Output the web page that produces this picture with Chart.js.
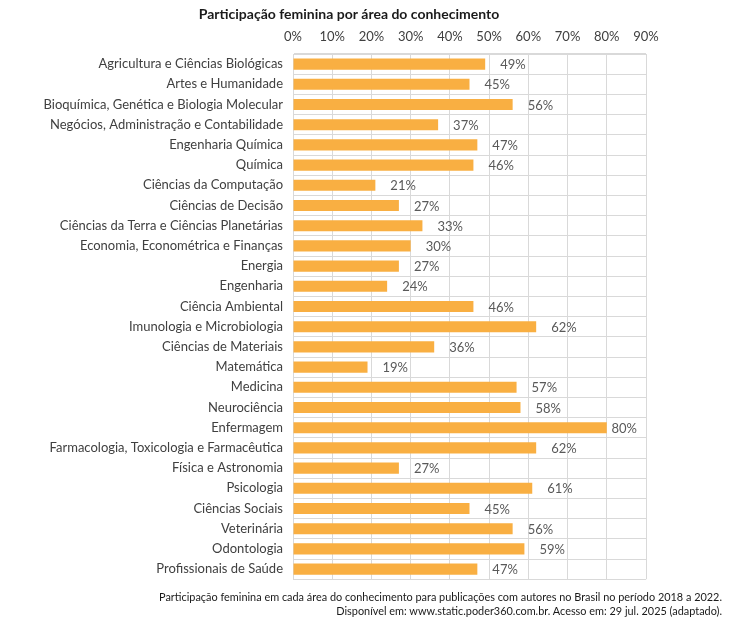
<!DOCTYPE html>
<html>
<head>
<meta charset="utf-8">
<script src="https://cdn.jsdelivr.net/npm/chart.js@4"></script>
<style>
  html, body { margin: 0; padding: 0; background: #fff; }
  body { width: 731px; height: 622px; position: relative; overflow: hidden; }
  #wrap { position: absolute; left: 0; top: 0; width: 698px; height: 597px; }
  .note { position: absolute; right: 9px; font-family: Lato, sans-serif; font-size: 10.9px; color: #1a1a1a; white-space: nowrap; }
</style>
</head>
<body>
<div id="wrap"><canvas id="c"></canvas></div>
<div class="note" style="top:590px">Participação feminina em cada área do conhecimento para publicações com autores no Brasil no período 2018 a 2022.</div>
<div class="note" style="top:604px">Disponível em: www.static.poder360.com.br. Acesso em: 29 jul. 2025 (adaptado).</div>
<script>
const categories = [
  "Agricultura e Ciências Biológicas",
  "Artes e Humanidade",
  "Bioquímica, Genética e Biologia Molecular",
  "Negócios, Administração e Contabilidade",
  "Engenharia Química",
  "Química",
  "Ciências da Computação",
  "Ciências de Decisão",
  "Ciências da Terra e Ciências Planetárias",
  "Economia, Econométrica e Finanças",
  "Energia",
  "Engenharia",
  "Ciência Ambiental",
  "Imunologia e Microbiologia",
  "Ciências de Materiais",
  "Matemática",
  "Medicina",
  "Neurociência",
  "Enfermagem",
  "Farmacologia, Toxicologia e Farmacêutica",
  "Física e Astronomia",
  "Psicologia",
  "Ciências Sociais",
  "Veterinária",
  "Odontologia",
  "Profissionais de Saúde"
];
const values = [49, 45, 56, 37, 47, 46, 21, 27, 33, 30, 27, 24, 46, 62, 36, 19, 57, 58, 80, 62, 27, 61, 45, 56, 59, 47];
const xTicks = [0, 10, 20, 30, 40, 50, 60, 70, 80, 90];
const chartTitle = "Participação feminina por área do conhecimento";

const FONT = "Lato, 'Open Sans', sans-serif";

const valueLabels = {
  id: 'valueLabels',
  afterLayout(chart) {
    if (chart.titleBlock) { chart.titleBlock.left = 52; chart.titleBlock.right = 646; }
  },
  afterDatasetsDraw(chart) {
    const ctx = chart.ctx;
    const meta = chart.getDatasetMeta(0);
    const right = chart.chartArea.right;
    ctx.save();
    ctx.font = "13px " + FONT;
    ctx.fillStyle = "#595959";
    ctx.textAlign = "left";
    ctx.textBaseline = "middle";
    meta.data.forEach((bar, i) => {
      const txt = values[i] + "%";
      const w = ctx.measureText(txt).width;
      const x = Math.min(bar.x + 15, right - 9 - w);
      ctx.fillText(txt, x, bar.y + 1);
    });
    ctx.restore();
  }
};

new Chart(document.getElementById('c'), {
  type: 'bar',
  data: {
    labels: categories,
    datasets: [{
      data: values,
      backgroundColor: '#F9AF42',
      borderWidth: 0,
      categoryPercentage: 1,
      barPercentage: 0.55
    }]
  },
  options: {
    indexAxis: 'y',
    responsive: true,
    maintainAspectRatio: false,
    animation: false,
    layout: { padding: { left: 0, right: 52, top: 0, bottom: 5 } },
    plugins: {
      legend: { display: false },
      tooltip: { enabled: false },
      title: {
        display: true,
        text: chartTitle,
        color: '#1a1a1a',
        font: { family: FONT, size: 14, weight: 'bold' },
        padding: { top: 6, bottom: 6 }
      }
    },
    scales: {
      x: {
        position: 'top',
        min: 0,
        max: 90,
        afterBuildTicks(scale) { scale.ticks = xTicks.map(v => ({ value: v })); },
        afterFit(scale) { scale.height = 25.2; },
        ticks: {
          callback: v => v + '%',
          color: '#404040',
          font: { family: FONT, size: 13 },
          padding: 9,
          maxRotation: 0
        },
        grid: { color: '#d9d9d9', drawTicks: false },
        border: { color: '#d9d9d9' }
      },
      y: {
        afterFit(scale) { scale.width = 293; },
        ticks: {
          color: '#404040',
          font: { family: FONT, size: 13 },
          padding: 10,
          autoSkip: false
        },
        grid: { color: '#d9d9d9', offset: true, drawTicks: false },
        border: { color: '#d9d9d9' }
      }
    }
  },
  plugins: [valueLabels]
});
</script>
</body>
</html>
